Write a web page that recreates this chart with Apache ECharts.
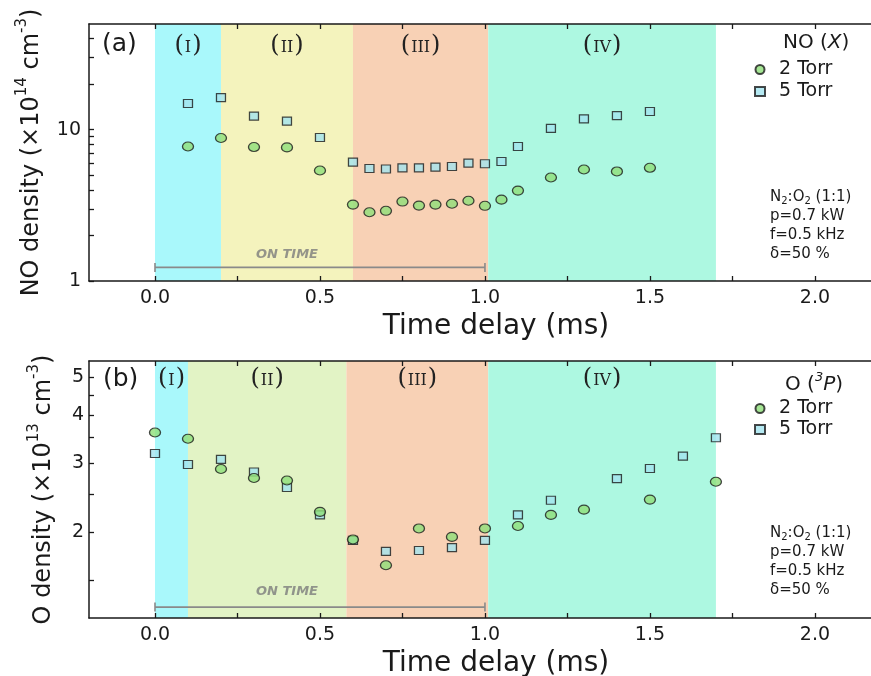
<!DOCTYPE html>
<html><head><meta charset="utf-8">
<script src="https://cdn.jsdelivr.net/npm/echarts@6/dist/echarts.min.js"></script>
<style>html,body{margin:0;padding:0;background:#fff}#c{width:871px;height:676px}</style>
</head><body><div id="c"></div><script>
// ---- data ----
const timeNO = [0.1,0.2,0.3,0.4,0.5,0.6,0.65,0.7,0.75,0.8,0.85,0.9,0.95,1.0,1.05,1.1,1.2,1.3,1.4,1.5];
const no2Torr = [7.75,8.81,7.68,7.64,5.38,3.20,2.85,2.91,3.35,3.15,3.20,3.24,3.39,3.14,3.45,3.96,4.83,5.46,5.30,5.60];
const no5Torr = [14.9,16.3,12.3,11.4,8.89,6.11,5.54,5.50,5.60,5.60,5.66,5.71,6.02,5.96,6.17,7.75,10.2,11.8,12.4,13.2];
const timeO2 = [0,0.1,0.2,0.3,0.4,0.5,0.6,0.7,0.8,0.9,1.0,1.1,1.2,1.3,1.5,1.7];
const o2Torr = [3.60,3.47,2.90,2.75,2.71,2.25,1.91,1.64,2.04,1.94,2.04,2.07,2.21,2.28,2.42,2.69];
const timeO5 = [0,0.1,0.2,0.3,0.4,0.5,0.6,0.7,0.8,0.9,1.0,1.1,1.2,1.4,1.5,1.6,1.7];
const o5Torr = [3.18,2.98,3.07,2.85,2.60,2.21,1.90,1.78,1.79,1.82,1.90,2.21,2.41,2.74,2.91,3.13,3.49];

const xTickLabels = [0, 0.5, 1.0, 1.5, 2.0];
const xTicks = [0, 0.25, 0.5, 0.75, 1.0, 1.25, 1.5, 1.75, 2.0];
const noTickLabels = [1, 10];
const noTicks = [1, 2, 3, 4, 5, 6, 7, 8, 9, 10, 20, 30, 40];
const oTickLabels = [2, 3, 4, 5];
const oTicks = [1.5, 2, 2.5, 3, 3.5, 4, 4.5, 5];

const phaseNames = ['I', 'II', 'III', 'IV'];
const phaseStartNO = [0, 0.2, 0.6, 1.01];
const phaseEndNO = [0.2, 0.6, 1.01, 1.7];
const phaseStartO = [0, 0.1, 0.58, 1.01];
const phaseEndO = [0.1, 0.58, 1.01, 1.7];
const onTimeRange = [0, 1.0];

// ---- styles ----
const SANS = 'DejaVu Sans';
const SERIF = 'DejaVu Serif';
const INK = '#1a1a1a';
const phaseColorsNO = ['#a9f8fb', '#f4f3bd', '#f8d1b5', '#adf8e1'];
const phaseColorsO = ['#a9f8fb', '#e2f3c5', '#f8d1b5', '#adf8e1'];
const circleStyle = { color: '#8fdf79', borderColor: '#1a1a1a', borderWidth: 1.2 };
const squareStyle = { color: '#a2e3ef', borderColor: '#1a1a1a', borderWidth: 1.2 };

function zip(a, b) { return a.map((v, i) => [v, b[i]]); }

const GRID_LEFT = 89, GRID_W = 782, GRID_H = 257;
const grids = [
  { left: GRID_LEFT, top: 24, width: GRID_W, height: GRID_H, outerBoundsMode: 'none', containLabel: false },
  { left: GRID_LEFT, top: 361, width: GRID_W, height: GRID_H, outerBoundsMode: 'none', containLabel: false }
];

function xAxesFor(gi) {
  const common = { gridIndex: gi, type: 'value', min: -0.2, max: 2.17, splitLine: { show: false }, z: 10 };
  return [
    Object.assign({}, common, {
      position: 'bottom',
      axisLine: { show: true, onZero: false, lineStyle: { color: INK, width: 1.5 } },
      axisTick: { show: true, inside: true, length: 5, customValues: xTicks, lineStyle: { color: INK, width: 1.3 } },
      axisLabel: { show: true, customValues: xTickLabels, formatter: v => Number(v).toFixed(1), fontSize: 19, fontFamily: SANS, color: INK, margin: 8 },
      name: 'Time delay (ms)', nameLocation: 'middle', nameGap: 32,
      nameTextStyle: { fontSize: 28, fontFamily: SANS, color: INK, padding: [0, 0, 0, 32] }
    }),
    Object.assign({}, common, {
      position: 'top',
      axisLine: { show: true, onZero: false, lineStyle: { color: INK, width: 1.5 } },
      axisTick: { show: true, inside: true, length: 5, customValues: xTicks, lineStyle: { color: INK, width: 1.3 } },
      axisLabel: { show: false }
    })
  ];
}

const supRich = {
  m: { fontSize: 24, fontFamily: SANS, color: INK, lineHeight: 29, verticalAlign: 'bottom' },
  s: { fontSize: 15, fontFamily: SANS, color: INK, lineHeight: 29, verticalAlign: 'top' }
};

const yAxes = [
  {
    gridIndex: 0, type: 'log', logBase: 10, min: 1, max: 50, z: 10,
    splitLine: { show: false },
    axisLine: { show: true, onZero: false, lineStyle: { color: INK, width: 1.5 } },
    axisTick: { show: true, inside: true, length: 5, customValues: noTicks, lineStyle: { color: INK, width: 1.3 } },
    axisLabel: { show: true, customValues: noTickLabels, formatter: v => String(Math.round(v)), fontSize: 19, fontFamily: SANS, color: INK, margin: 8 },
    name: '{m|NO density (×10}{s|14}{m| cm}{s|-3}{m|)}', nameLocation: 'middle', nameGap: 45,
    nameTextStyle: { rich: supRich }
  },
  {
    gridIndex: 1, type: 'log', logBase: 10, min: 1.2, max: 5.5, z: 10,
    splitLine: { show: false },
    axisLine: { show: true, onZero: false, lineStyle: { color: INK, width: 1.5 } },
    axisTick: { show: true, inside: true, length: 5, customValues: oTicks, lineStyle: { color: INK, width: 1.3 } },
    axisLabel: { show: true, customValues: oTickLabels, formatter: v => String(Math.round(v)), fontSize: 19, fontFamily: SANS, color: INK, margin: 5 },
    name: '{m|O density (×10}{s|13}{m| cm}{s|-3}{m|)}', nameLocation: 'middle', nameGap: 33,
    nameTextStyle: { rich: supRich }
  }
];

function phaseAreas(starts, ends, colors, dist) {
  return {
    silent: true,
    data: phaseNames.map((n, i) => [
      {
        xAxis: starts[i],
        itemStyle: { color: colors[i], opacity: 1 },
        label: {
          show: true, position: 'insideTop', distance: dist,
          formatter: '{p|(}{n|' + n + '}{p|)}',
          rich: {
            p: { fontSize: 24, fontFamily: SERIF, color: '#222' },
            n: { fontSize: 16, fontFamily: SERIF, color: '#222', padding: [3, 1, 0, 1] }
          }
        }
      },
      { xAxis: ends[i] }
    ])
  };
}

function onTimeSeries(xi, yi, yLine, yText) {
  return [
    {
      type: 'line', xAxisIndex: xi, yAxisIndex: yi, silent: true, z: 4,
      data: onTimeRange.map(t => [t, yLine]),
      symbol: 'rect', symbolSize: [1.6, 9], showSymbol: true,
      itemStyle: { color: '#8a8a8a' }, lineStyle: { color: '#8a8a8a', width: 1.6 }
    },
    {
      type: 'scatter', xAxisIndex: xi, yAxisIndex: yi, silent: true, z: 4,
      data: [[0.4, yText]], symbolSize: 0,
      label: { show: true, position: 'inside', formatter: 'ON TIME', fontSize: 13, fontStyle: 'italic', fontWeight: 'bold', fontFamily: SANS, color: '#7c7c7c' }
    }
  ];
}

const series = [
  {
    name: '5 Torr', type: 'scatter', xAxisIndex: 0, yAxisIndex: 0, z: 5,
    data: zip(timeNO, no5Torr), symbol: 'rect', symbolSize: [9, 8], itemStyle: squareStyle,
    markArea: phaseAreas(phaseStartNO, phaseEndNO, phaseColorsNO, 10)
  },
  {
    name: '2 Torr', type: 'scatter', xAxisIndex: 0, yAxisIndex: 0, z: 6,
    data: zip(timeNO, no2Torr), symbol: 'circle', symbolSize: [11, 9], itemStyle: circleStyle
  },
  ...onTimeSeries(0, 0, 1.23, 1.50),
  {
    name: '5 Torr', type: 'scatter', xAxisIndex: 2, yAxisIndex: 1, z: 5,
    data: zip(timeO5, o5Torr), symbol: 'rect', symbolSize: [9, 8], itemStyle: squareStyle,
    markArea: phaseAreas(phaseStartO, phaseEndO, phaseColorsO, 6)
  },
  {
    name: '2 Torr', type: 'scatter', xAxisIndex: 2, yAxisIndex: 1, z: 6,
    data: zip(timeO2, o2Torr), symbol: 'circle', symbolSize: [11, 9], itemStyle: circleStyle
  },
  ...onTimeSeries(2, 1, 1.28, 1.40)
];

function legendAt(top, gap) {
  return {
    data: ['2 Torr', '5 Torr'], orient: 'vertical', left: 749, top: top,
    itemWidth: 10, itemHeight: 9, itemGap: gap, selectedMode: false,
    textStyle: { fontSize: 19, fontFamily: SANS, color: INK, lineHeight: 18, padding: [0, 0, 0, 9] }
  };
}

const legendTitleRich = {
  a: { fontSize: 20, fontFamily: SANS, fill: INK, lineHeight: 24, verticalAlign: 'bottom' },
  i: { fontSize: 20, fontFamily: SANS, fontStyle: 'italic', fill: INK, lineHeight: 24, verticalAlign: 'bottom' },
  s: { fontSize: 13, fontFamily: SANS, fontStyle: 'italic', fill: INK, lineHeight: 24, verticalAlign: 'top' }
};
const noteRich = {
  t: { fontSize: 15, fontFamily: SANS, fill: INK, lineHeight: 19 },
  b: { fontSize: 10, fontFamily: SANS, fill: INK, lineHeight: 19, padding: [8, 0, 0, 0] }
};
const noteText = '{t|N}{b|2}{t|:O}{b|2}{t| (1:1)}\n{t|p=0.7 kW}\n{t|f=0.5 kHz}\n{t|δ=50 %}';

const graphic = [
  { type: 'text', left: 102, top: 32, z: 20, style: { text: '(a)', font: '25px "DejaVu Sans"', fill: INK } },
  { type: 'text', left: 103, top: 367, z: 20, style: { text: '(b)', font: '25px "DejaVu Sans"', fill: INK } },
  { type: 'text', left: 783, top: 33, z: 20, style: { text: '{a|NO (}{i|X}{a|)}', rich: legendTitleRich } },
  { type: 'text', left: 785, top: 371, z: 20, style: { text: '{a|O (}{s|3}{i|P}{a|)}', rich: legendTitleRich } },
  { type: 'text', left: 770, top: 188, z: 20, style: { text: noteText, rich: noteRich } },
  { type: 'text', left: 770, top: 524, z: 20, style: { text: noteText, rich: noteRich } }
];

const chart = echarts.init(document.getElementById('c'), null, { renderer: 'canvas' });
chart.setOption({
  animation: false,
  backgroundColor: '#ffffff',
  grid: grids,
  xAxis: [...xAxesFor(0), ...xAxesFor(1)],
  yAxis: yAxes,
  legend: [legendAt(55, 3), legendAt(394, 2)],
  graphic: graphic,
  series: series
});
</script></body></html>
